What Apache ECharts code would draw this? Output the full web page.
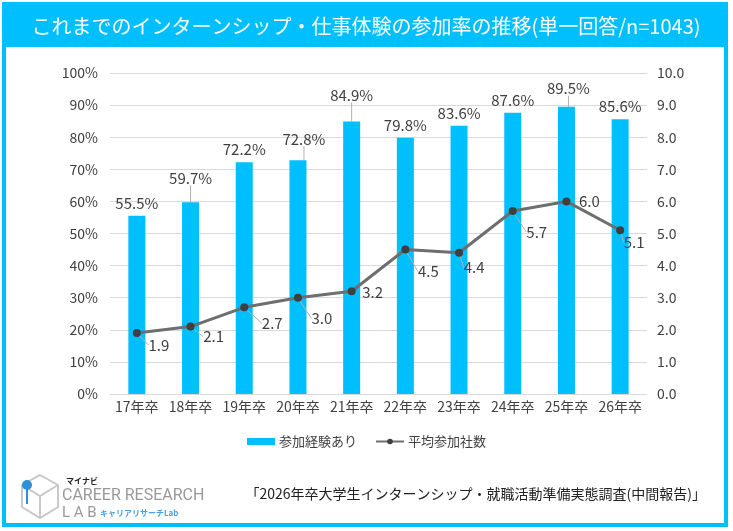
<!DOCTYPE html>
<html><head><meta charset="utf-8">
<script src="https://cdn.jsdelivr.net/npm/echarts@6/dist/echarts.min.js"></script>
<style>html,body{margin:0;padding:0;background:#fff}#c{width:733px;height:531px}</style>
</head><body><div id="c"></div>
<script>
const categories = ['17年卒','18年卒','19年卒','20年卒','21年卒','22年卒','23年卒','24年卒','25年卒','26年卒'];
const participationRate = [55.5, 59.7, 72.2, 72.8, 84.9, 79.8, 83.6, 87.6, 89.5, 85.6];
const avgCompanies = [1.9, 2.1, 2.7, 3.0, 3.2, 4.5, 4.4, 5.7, 6.0, 5.1];
const leftTicks = {min: 0, max: 100, interval: 10};
const rightTicks = {min: 0, max: 10, interval: 1};

// label displacement (style only)
const barLabelShift = [[0,0],[0,-12],[0,0],[6,-9],[0,-14],[0,0],[0,0],[0,0],[2,-6],[0,0]];
const lineLabelShift = [[22,12],[23,10],[28,16],[24,21],[21,1],[23,22],[15,15],[24,21],[23,0],[14,12]];

const FONT = '"Noto Sans CJK JP", "Noto Sans", sans-serif';
const TXT = '#404040';
const CYAN = '#00BFFF';

const chart = echarts.init(document.getElementById('c'));
chart.setOption({
  animation: false,
  textStyle: {fontFamily: FONT},
  graphic: [
    {type: 'rect', shape: {x: 4, y: 4, width: 722, height: 521}, style: {fill: 'none', stroke: CYAN, lineWidth: 4}, z: 0},
    {type: 'rect', shape: {x: 4, y: 3, width: 722, height: 44}, style: {fill: CYAN}, z: 1},
    {type: 'text', x: 366, y: 26, style: {text: 'これまでのインターンシップ・仕事体験の参加率の推移(単一回答/n=1043)', fill: '#fff', font: '20px ' + FONT, align: 'center', verticalAlign: 'middle'}, z: 2},
    {type: 'text', x: 706, y: 494, style: {text: '「2026年卒大学生インターンシップ・就職活動準備実態調査(中間報告)」', fill: '#222', font: '14px ' + FONT, align: 'right', verticalAlign: 'middle'}},
    // logo
    {type: 'polygon', shape: {points: [[40,475],[58,485],[58,507],[40,518],[22,507],[22,485]]}, style: {fill: 'none', stroke: '#c8c8c8', lineWidth: 2}},
    {type: 'polyline', shape: {points: [[22,485],[40,496],[58,485]]}, style: {fill: 'none', stroke: '#c8c8c8', lineWidth: 2}},
    {type: 'line', shape: {x1: 40, y1: 496, x2: 40, y2: 518}, style: {stroke: '#c8c8c8', lineWidth: 2}},
    {type: 'line', shape: {x1: 27, y1: 488, x2: 27, y2: 504}, style: {stroke: '#2f8fd8', lineWidth: 2}},
    {type: 'circle', shape: {cx: 27, cy: 485, r: 5}, style: {fill: '#2f8fd8'}},
    {type: 'text', x: 66, y: 481, style: {text: 'マイナビ', fill: '#222', font: 'bold 8px ' + FONT, verticalAlign: 'middle'}},
    {type: 'text', x: 62, y: 496, style: {text: 'CAREER RESEARCH', fill: '#999', font: '16px Roboto, sans-serif', verticalAlign: 'middle'}},
    {type: 'text', x: 62, y: 513, style: {text: 'L A B', fill: '#999', font: '15px Roboto, sans-serif', verticalAlign: 'middle'}},
    {type: 'text', x: 100, y: 513, style: {text: 'キャリアリサーチLab', fill: '#4aa3e0', font: 'bold 8px ' + FONT, verticalAlign: 'middle'}}
  ],
  legend: {
    top: 430, left: 'center', itemGap: 18, itemWidth: 28, itemHeight: 7,
    textStyle: {fontSize: 13, color: TXT, fontFamily: FONT, padding: [0, 0, 0, -1]},
    data: [{name: '参加経験あり', icon: 'rect'}, {name: '平均参加社数'}]
  },
  grid: {left: 110, right: 86, top: 73, bottom: 137},
  xAxis: {
    type: 'category', data: categories,
    axisLine: {lineStyle: {color: '#d9d9d9'}}, axisTick: {show: false},
    axisLabel: {interval: 0, fontSize: 14, color: TXT, margin: 6, fontFamily: FONT}
  },
  yAxis: [
    {type: 'value', min: leftTicks.min, max: leftTicks.max, interval: leftTicks.interval,
     axisLabel: {formatter: '{value}%', fontSize: 14, color: TXT, margin: 12, fontFamily: FONT},
     splitLine: {lineStyle: {color: '#d9d9d9'}}, axisLine: {show: false}, axisTick: {show: false}},
    {type: 'value', min: rightTicks.min, max: rightTicks.max, interval: rightTicks.interval,
     axisLabel: {formatter: v => v.toFixed(1), fontSize: 14, color: TXT, margin: 10, fontFamily: FONT},
     splitLine: {show: false}, axisLine: {show: false}, axisTick: {show: false}}
  ],
  series: [
    {
      name: '参加経験あり', type: 'bar', yAxisIndex: 0, barWidth: 17,
      itemStyle: {color: CYAN},
      data: participationRate.map((v, i) => ({value: v, labelLine: {show: barLabelShift[i][1] !== 0}})),
      label: {show: true, position: 'top', distance: 5, formatter: p => p.value.toFixed(1) + '%', fontSize: 15, color: TXT, fontFamily: FONT},
      labelLine: {show: true, lineStyle: {color: '#b0b0b0', width: 1}},
      labelLayout: p => ({dx: barLabelShift[p.dataIndex][0], dy: barLabelShift[p.dataIndex][1]})
    },
    {
      name: '平均参加社数', type: 'line', yAxisIndex: 1,
      symbol: 'circle', symbolSize: 8,
      lineStyle: {color: '#6e6e6e', width: 3},
      itemStyle: {color: '#3f3f3f'},
      data: avgCompanies.map((v, i) => ({value: v, labelLine: {show: Math.abs(lineLabelShift[i][1]) > 4}})),
      label: {show: true, position: 'inside', formatter: p => p.value.toFixed(1), fontSize: 15, color: TXT, fontFamily: FONT},
      labelLine: {show: true, lineStyle: {color: '#b0b0b0', width: 1}},
      labelLayout: p => ({dx: lineLabelShift[p.dataIndex][0], dy: lineLabelShift[p.dataIndex][1]}),
      z: 5
    }
  ]
});
</script></body></html>
